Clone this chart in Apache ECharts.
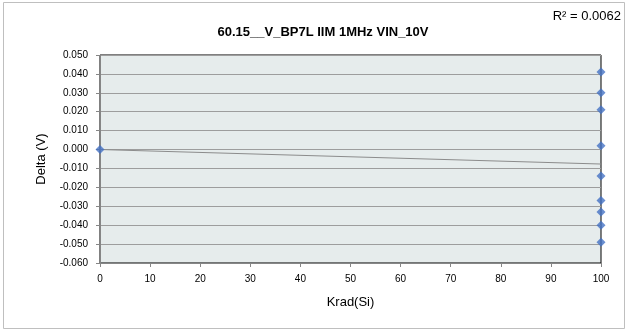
<!DOCTYPE html>
<html>
<head>
<meta charset="utf-8">
<script src="https://cdn.jsdelivr.net/npm/echarts@6/dist/echarts.min.js"></script>
<style>
  html, body { margin: 0; padding: 0; background: #fff; }
  #chart { width: 629px; height: 332px; }
</style>
</head>
<body>
<div id="chart"></div>
<script>
// data
var doseX = [0, 100, 100, 100, 100, 100, 100, 100, 100, 100];
var deltaY = [0.000, 0.041, 0.030, 0.021, 0.002, -0.014, -0.027, -0.033, -0.040, -0.049];
var chartTitle = "60.15__V_BP7L IIM 1MHz VIN_10V";
var rSquaredText = "R\u00b2 = 0.0062";

// linear trendline through the points (least squares)
function trend(xs, ys) {
  var n = xs.length, sx = 0, sy = 0, sxx = 0, sxy = 0;
  for (var i = 0; i < n; i++) {
    sx += xs[i]; sy += ys[i];
    sxx += xs[i] * xs[i]; sxy += xs[i] * ys[i];
  }
  var slope = (n * sxy - sx * sy) / (n * sxx - sx * sx);
  var icpt = (sy - slope * sx) / n;
  return [[0, icpt], [100, icpt + slope * 100]];
}

var points = doseX.map(function (x, i) { return [x, deltaY[i]]; });
var font = "Liberation Sans";

var chart = echarts.init(document.getElementById("chart"));
chart.setOption({
  animation: false,
  textStyle: { fontFamily: font },
  graphic: [
    {
      type: "rect",
      shape: { x: 3.5, y: 2.5, width: 621, height: 326 },
      style: { fill: "none", stroke: "#bfbfbf", lineWidth: 1 }
    },
    {
      type: "text",
      right: 8, top: 10,
      style: { text: rSquaredText, font: "13px " + font, fill: "#000" }
    }
  ],
  title: {
    text: chartTitle,
    left: 318, top: 21,
    textAlign: "center",
    textStyle: { fontSize: 13, fontWeight: "bold", color: "#000", fontFamily: font }
  },
  grid: {
    left: 100, right: 28, top: 55, bottom: 69,
    show: true,
    backgroundColor: "#e6ecec",
    borderColor: "#000",
    borderWidth: 1
  },
  xAxis: {
    type: "value",
    min: 0, max: 100, interval: 10,
    name: "Krad(Si)",
    nameLocation: "middle",
    nameGap: 33,
    nameTextStyle: { fontSize: 13, color: "#000" },
    axisLine: { onZero: false, lineStyle: { color: "#868686" } },
    axisTick: { show: true, length: 4, inside: false, lineStyle: { color: "#868686" } },
    axisLabel: { fontSize: 10, color: "#000", margin: 11 },
    splitLine: { show: false }
  },
  yAxis: {
    type: "value",
    min: -0.06, max: 0.05, interval: 0.01,
    name: "Delta (V)",
    nameLocation: "middle",
    nameGap: 52,
    nameTextStyle: { fontSize: 13, color: "#000" },
    axisLine: { onZero: false, lineStyle: { color: "#868686" } },
    axisTick: { show: true, length: 4, lineStyle: { color: "#868686" } },
    axisLabel: {
      fontSize: 10, color: "#000", margin: 12,
      formatter: function (v) { return v.toFixed(3); }
    },
    splitLine: { show: true, lineStyle: { color: "#9d9d9d", width: 1 } }
  },
  series: [
    {
      name: "trend",
      type: "line",
      data: trend(doseX, deltaY),
      symbol: "none",
      lineStyle: { color: "#8c8c8c", width: 1 },
      z: 2
    },
    {
      name: "delta",
      type: "scatter",
      data: points,
      symbol: "diamond",
      symbolSize: 9,
      itemStyle: { color: "#4472c4" },
      z: 3
    }
  ]
});
</script>
</body>
</html>
